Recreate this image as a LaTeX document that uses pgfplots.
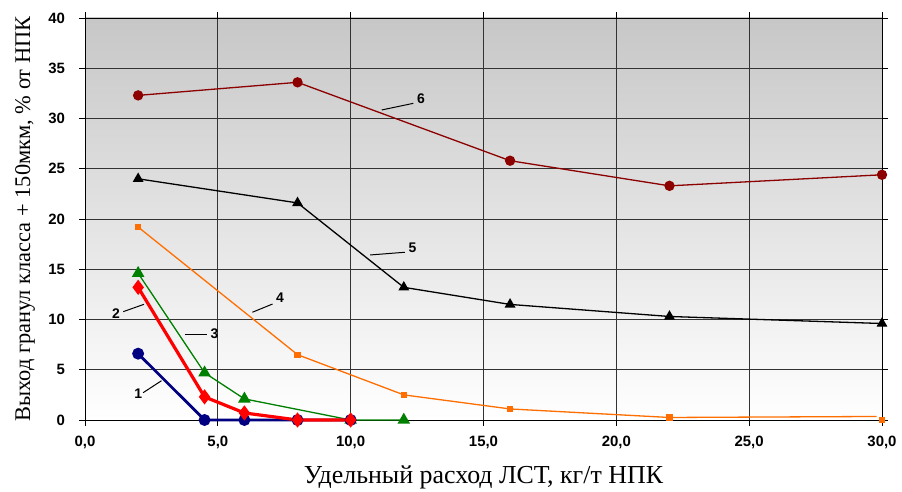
\documentclass[border=0pt]{standalone}
\usepackage{fontspec}
\setmainfont{Liberation Serif}
\setsansfont{Liberation Sans}
\usepackage{pgfplots}
\pgfplotsset{compat=1.18}
\definecolor{sNavy}{RGB}{0,0,128}
\definecolor{sRed}{RGB}{255,0,0}
\definecolor{sGreen}{RGB}{0,128,0}
\definecolor{sOrange}{RGB}{255,110,0}
\definecolor{sDark}{RGB}{140,0,0}
\begin{document}
\begin{tikzpicture}
\begin{axis}[
    name=main,
    scale only axis,
    width=797bp, height=402bp,
    xmin=0, xmax=30, ymin=0, ymax=40,
    xtick={0,5,10,15,20,25,30},
    xticklabels={{0,0},{5,0},{10,0},{15,0},{20,0},{25,0},{30,0}},
    ytick={0,5,...,40},
    grid=major,
    major grid style={black!80, line width=0.8bp},
    axis line style={black, line width=0.8bp},
    tick align=outside,
    major tick length=6bp,
    tick style={black, line width=0.8bp},
    /pgf/number format/assume math mode=true,
    ticklabel style={font=\sffamily\bfseries\fontsize{15}{17}\selectfont},
    xticklabel style={yshift=-6.5bp},
    yticklabel style={xshift=-10.5bp},
    axis background/.style={top color=black!22, bottom color=white},
    clip=false,
]
% 6
\addplot[sDark, line width=1.3bp, mark=*, mark size=4.5bp] coordinates {
    (2,32.3) (8,33.6) (16,25.8) (22,23.3) (30,24.4)
};
% 5
\addplot[black, line width=1.3bp, mark=triangle*, mark size=5bp] coordinates {
    (2,24.0) (8,21.6) (12,13.2) (16,11.5) (22,10.3) (30,9.6)
};
% 4
\addplot[sOrange, line width=1.3bp, mark=square*, mark size=2.5bp, mark indices={1,2,3,4,5}] coordinates {
    (2,19.2) (8,6.5) (12,2.5) (16,1.1) (22,0.25) (29.8,0.35)
};
\addplot[sOrange, only marks, mark=square*, mark size=2.5bp] coordinates {
    (30,0)
};
% 3
\addplot[sGreen, line width=1.3bp, mark=triangle*, mark size=6bp] coordinates {
    (2,14.6) (4.5,4.7) (6,2.1) (10,0) (12,0)
};
% 1
\addplot[sNavy, line width=2.8bp, mark=*, mark size=4.5bp] coordinates {
    (2,6.6) (4.5,0) (6,0) (8,0) (10,0)
};
% 2
\addplot[sRed, line width=3.2bp, mark=diamond*, mark size=5bp] coordinates {
    (2,13.2) (4.5,2.3) (6,0.7) (8,0) (10,0)
};
% labels
\begin{scope}[line width=1bp, font=\sffamily\bfseries\fontsize{14}{16}\selectfont]
\draw (axis cs:2.19,2.72) -- (axis cs:2.88,3.91);
\node at (axis cs:2.0,2.6) {1};
\draw (axis cs:1.44,10.78) -- (axis cs:2.22,11.51);
\node at (axis cs:1.17,10.55) {2};
\draw (axis cs:3.76,8.46) -- (axis cs:4.58,8.46);
\node at (axis cs:4.87,8.63) {3};
\draw (axis cs:6.30,10.72) -- (axis cs:7.06,11.54);
\node at (axis cs:7.34,12.17) {4};
\draw (axis cs:10.73,16.42) -- (axis cs:12.04,16.69);
\node at (axis cs:12.33,17.18) {5};
\draw (axis cs:11.17,30.85) -- (axis cs:12.36,31.51);
\node at (axis cs:12.65,32.0) {6};
\end{scope}
\end{axis}
\node[font=\fontsize{26}{28}\selectfont] at ([yshift=-57bp]main.south) {Удельный расход ЛСТ, кг/т НПК};
\node[rotate=90, font=\fontsize{22.5}{24}\selectfont] at ([xshift=-60bp]main.west) {Выход гранул класса + 150мкм, \% от НПК};
\path ([xshift=-85bp]main.south west) ++(0,-70bp);
\path ([xshift=20bp]main.north east) ++(0,18bp);
\end{tikzpicture}
\end{document}
